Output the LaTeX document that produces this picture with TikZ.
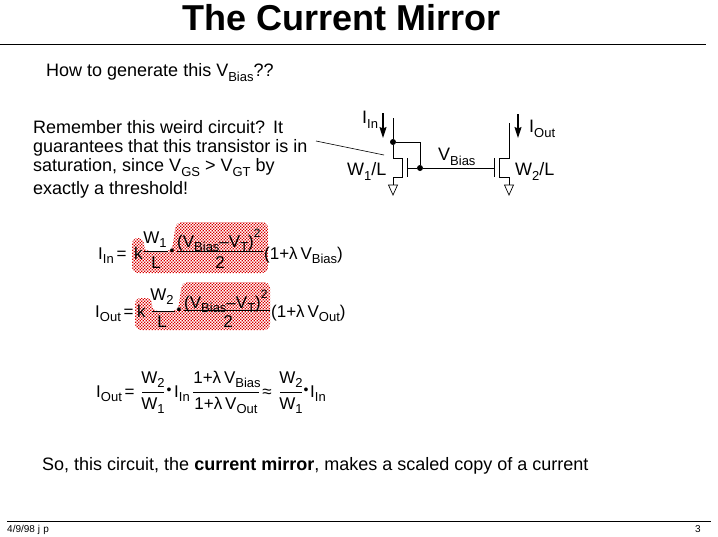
\documentclass[tikz,border=0pt]{standalone}
\usepackage{fontspec}
\setmainfont{Liberation Sans}
\usetikzlibrary{arrows.meta,patterns}
\pgfdeclarepatternformonly{stipple}{\pgfqpoint{-1pt}{-1pt}}{\pgfqpoint{4pt}{4pt}}{\pgfqpoint{3pt}{3pt}}{
  \pgfpathrectangle{\pgfqpoint{0pt}{0pt}}{\pgfqpoint{1.35pt}{1.35pt}}
  \pgfpathrectangle{\pgfqpoint{1.5pt}{1.5pt}}{\pgfqpoint{1.35pt}{1.35pt}}
  \pgfusepath{fill}
}
\newcommand{\low}[1]{\raisebox{-.28em}{\fontsize{13}{13}\selectfont #1}}
\newcommand{\up}[1]{\raisebox{.55em}{\fontsize{12}{12}\selectfont #1}}
\begin{document}
\begin{tikzpicture}[
    x=1pt, y=-1pt,
    txt/.style={inner sep=0pt, anchor=base west, font=\fontsize{18}{18}\selectfont},
    eqn/.style={inner sep=0pt, anchor=base west, font=\fontsize{17}{17}\selectfont},
    mid/.style={inner sep=0pt, anchor=base, font=\fontsize{17}{17}\selectfont},
    pnt/.style={inner sep=0pt, anchor=base, font=\fontsize{14}{14}\selectfont},
    foot/.style={inner sep=0pt, anchor=base west, font=\fontsize{10}{10}\selectfont},
    wire/.style={line width=1pt},
    bar/.style={line width=0.7pt},
    flow/.style={-{Stealth[length=11pt,width=7pt,inset=1.5pt]}, line width=1.2pt},
    blob/.style={pattern=stipple, pattern color=red!85!black, rounded corners=6pt},
    junction/.style={circle, fill=black, inner sep=0pt, minimum size=6pt}
]
\useasboundingbox (0,0) rectangle (718,536);

% Stippled blobs
\path[blob] (132,238) -- (144,238) -- (144,251) -- (172,251) -- (176,222) -- (268,222) -- (268,273) -- (132,273) -- cycle;
\path[blob] (135,298) -- (152,298) -- (152,311) -- (178,311) -- (182,282) -- (270,282) -- (270,330) -- (135,330) -- cycle;

% Title and rules
\node[inner sep=0pt, anchor=base, font=\fontsize{36}{36}\selectfont\bfseries] (title) at (342,30) {The Current Mirror};
\draw[line width=1.3pt] (0,44.5) -- (706,44.5);
\draw[line width=0.9pt] (7,521) -- (711,521);

% Text
\node[txt] (howto) at (46,76) {How to generate this V\low{Bias}??};
\node[txt] (line1) at (33,133) {Remember this weird circuit?\ \,It};
\node[txt] (line2) at (33,152) {guarantees that this transistor is in};
\node[txt] (line3) at (33,171) {saturation, since V\low{GS} > V\low{GT} by};
\node[txt] (line4) at (33,194) {exactly a threshold!};
\node[txt] (sotext) at (42,470) {So, this circuit, the \textbf{current mirror}, makes a scaled copy of a current};
\node[foot] (date) at (7,532) {4/9/98\ j\,\,p};
\node[foot] (page) at (695,532) {3};

% Circuit points
\coordinate (dtop1) at (393,118);
\node[junction] (dot1) at (393,142) {};
\coordinate (d1) at (393,158);
\coordinate (c1a) at (402,158);
\coordinate (c1b) at (402,177);
\coordinate (s1) at (393,177);
\coordinate (g1) at (393,185);
\coordinate (p1a) at (407,158);
\coordinate (p1b) at (407,177);
\coordinate (p1m) at (407,168);
\node[junction] (dot2) at (420,168) {};
\coordinate (k1) at (420,142);
\coordinate (p2m) at (494,168);
\coordinate (p2a) at (494,158);
\coordinate (p2b) at (494,177);
\coordinate (dtop2) at (509,123);
\coordinate (d2) at (509,158);
\coordinate (c2a) at (499,158);
\coordinate (c2b) at (499,177);
\coordinate (s2) at (509,177);
\coordinate (g2) at (509,185);

% Mirror wiring
\draw[wire] (dtop1) -- (dot1) -- (d1) -- (c1a) -- (c1b) -- (s1) -- (g1);
\draw[wire] (p1a) -- (p1b);
\draw[wire] (p1m) -- (dot2) -- (p2m);
\draw[wire] (dot1) -- (k1) -- (dot2);
\draw[wire] (p2a) -- (p2b);
\draw[wire] (dtop2) -- (d2) -- (c2a) -- (c2b) -- (s2) -- (g2);

% Grounds
\draw[line width=0.7pt] (g1) ++(-4.5,0) -- ++(9,0) -- ++(-4.5,10) -- cycle;
\draw[line width=0.7pt] (g2) ++(-4.5,0) -- ++(9,0) -- ++(-4.5,10) -- cycle;

% Current arrows
\coordinate (a1s) at (383,113);
\coordinate (a1e) at (383,138);
\coordinate (a2s) at (518,114);
\coordinate (a2e) at (518,138);
\draw[flow] (a1s) -- (a1e);
\draw[flow] (a2s) -- (a2e);

% Pointer from the text
\coordinate (ptra) at (316,141);
\coordinate (ptrb) at (384,155);
\draw[line width=0.6pt] (ptra) -- (ptrb);

% Circuit labels
\node[txt] (iin) at (362,123) {I\low{In}};
\node[txt] (iout) at (529,132) {I\low{Out}};
\node[txt] (w1l) at (347,175) {W\low{1}/L};
\node[txt] (w2l) at (515,175) {W\low{2}/L};
\node[txt] (vbias) at (438,160) {V\low{Bias}};

% First equation
\node[eqn] (ea) at (98,259) {I\low{In}\,=};
\node[eqn] (ka) at (134,259) {k};
\node[mid] (wa) at (155,243) {W\low{1}};
\draw[bar] (144,251) -- (168,251);
\node[mid] (la) at (156,268) {L};
\node[pnt] (pa) at (172,255) {•};
\node[eqn] (va) at (177,247) {(V\low{Bias}–V\low{T})\up{2}};
\draw[bar] (177,251) -- (263,251);
\node[mid] (ta) at (220,268) {2};
\node[eqn] (ra) at (264,259) {(1+λ\,V\low{Bias})};

% Second equation
\node[eqn] (eb) at (95,317) {I\low{Out}\,=};
\node[eqn] (kb) at (137,317) {k};
\node[mid] (wb) at (162,300) {W\low{2}};
\draw[bar] (152,311) -- (175,311);
\node[mid] (lb) at (162,327) {L};
\node[pnt] (pb) at (179,314) {•};
\node[eqn] (vb) at (184,308) {(V\low{Bias}–V\low{T})\up{2}};
\draw[bar] (184,310) -- (270,310);
\node[mid] (tb) at (228,327) {2};
\node[eqn] (rb) at (271,317) {(1+λ\,V\low{Out})};

% Third equation
\node[eqn] (ec) at (96,397) {I\low{Out}\,=};
\node[mid] (wc) at (153,383) {W\low{2}};
\draw[bar] (142,392) -- (164,392);
\node[mid] (vc) at (153,409) {W\low{1}};
\node[pnt] (pc) at (169,394) {•};
\node[eqn] (ic) at (174,397) {I\low{In}};
\node[mid] (nc) at (227,383) {1+λ\,V\low{Bias}};
\draw[bar] (193,392) -- (259,392);
\node[mid] (dc) at (226,409) {1+λ\,V\low{Out}};
\node[mid] (ac) at (267,397) {≈};
\node[mid] (wd) at (291,383) {W\low{2}};
\draw[bar] (280,392) -- (302,392);
\node[mid] (vd) at (291,409) {W\low{1}};
\node[pnt] (pd) at (306,394) {•};
\node[eqn] (id) at (310,397) {I\low{In}};
\end{tikzpicture}
\end{document}
